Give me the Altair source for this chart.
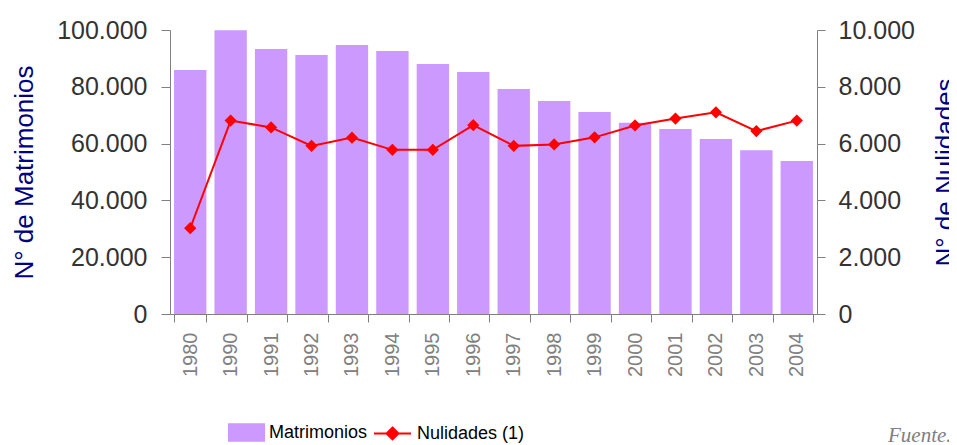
import altair as alt
import pandas as pd

years = ["1980", "1990", "1991", "1992", "1993", "1994", "1995", "1996",
         "1997", "1998", "1999", "2000", "2001", "2002", "2003", "2004"]
matrimonios = [85900, 99900, 93300, 91200, 94700, 92600, 88000, 85200,
               79200, 75000, 71100, 67300, 65100, 61600, 57700, 53900]
nulidades = [3020, 6810, 6570, 5920, 6210, 5780, 5780, 6650,
             5920, 5970, 6220, 6640, 6880, 7100, 6440, 6810]
left_ticks = [0, 20000, 40000, 60000, 80000, 100000]
right_ticks = [0, 2000, 4000, 6000, 8000, 10000]

df = pd.DataFrame({"year": years, "matrimonios": matrimonios, "nulidades": nulidades})

FONT = "Liberation Sans"
label_expr = "replace(format(datum.value, ',d'), ',', '.')"

x = alt.X(
    "year:N", sort=years, title=None,
    scale=alt.Scale(paddingInner=0.2, paddingOuter=0.1),
    axis=alt.Axis(labelAngle=270, labelColor="#808080", labelFont=FONT, labelFontSize=20,
                  labelPadding=10, tickBand="extent", tickSize=8, tickColor="#808080",
                  domainColor="#808080", grid=False),
)

left_axis = alt.Axis(values=left_ticks, labelExpr=label_expr, title="N° de Matrimonios",
                     titleColor="#000080", titleFont=FONT, titleFontSize=26, titleFontWeight="normal",
                     titleAngle=270, titleBaseline="middle", titleAlign="center", titleX=-146, titleY=142,
                     labelColor="#333333", labelFont=FONT, labelFontSize=25,
                     labelPadding=14, tickSize=9, tickColor="#808080", domainColor="#808080", grid=False)
right_axis = alt.Axis(values=right_ticks, labelExpr=label_expr, title="N° de Nulidades", orient="right",
                      titleColor="#000080", titleFont=FONT, titleFontSize=26, titleFontWeight="normal",
                      titleAngle=270, titleBaseline="middle", titleAlign="center", titleX=128, titleY=142,
                      labelColor="#333333", labelFont=FONT, labelFontSize=25,
                      labelPadding=13, tickSize=8, tickColor="#808080", domainColor="#808080", grid=False)

LEG_FONT = 18

bars = alt.Chart(df).transform_calculate(serie="'Matrimonios'").mark_bar(opacity=1).encode(
    x=x,
    y=alt.Y("matrimonios:Q", scale=alt.Scale(domain=[0, 100000], nice=False), axis=left_axis),
    color=alt.Color("serie:N", scale=alt.Scale(domain=["Matrimonios"], range=["#CC99FF"]),
                    legend=alt.Legend(orient="none", legendX=58, legendY=384, title=None, padding=0,
                                      symbolType="M-1,-0.5H1V0.5H-1Z", symbolSize=1369,
                                      symbolStrokeWidth=0, symbolOpacity=1,
                                      labelFont=FONT, labelFontSize=LEG_FONT, labelColor="#000000",
                                      labelOffset=4)),
)

y2 = alt.Y("nulidades:Q", scale=alt.Scale(domain=[0, 10000], nice=False), axis=right_axis)
c2 = alt.Color("serie:N", scale=alt.Scale(domain=["Nulidades (1)"], range=["#FF0000"]),
               legend=alt.Legend(orient="none", legendX=203, legendY=384, title=None, padding=0,
                                 symbolType="M-1,0H1M0,-0.32L0.32,0L0,0.32L-0.32,0Z", symbolSize=1369,
                                 symbolStrokeWidth=2, symbolFillColor="#FF0000", symbolStrokeColor="#FF0000",
                                 symbolOpacity=1,
                                 labelFont=FONT, labelFontSize=LEG_FONT, labelColor="#000000",
                                 labelOffset=5))

base2 = alt.Chart(df).transform_calculate(serie="'Nulidades (1)'")
line = base2.mark_line(strokeWidth=2).encode(x=x, y=y2, color=c2)
pts = base2.mark_point(shape="diamond", filled=True, size=150, opacity=1).encode(x=x, y=y2, color=c2)

chart = alt.layer(bars, alt.layer(line, pts)).resolve_scale(y="independent", color="independent").properties(
    width=647, height=284,
    autosize=alt.AutoSizeParams(type="none"),
    padding={"left": 162, "top": 22, "right": 132, "bottom": 131},
    title=alt.Title("Fuente.", orient="bottom", anchor="start", frame="group", dx=718, dy=-23,
                    font="Liberation Serif", fontStyle="italic", fontSize=21, fontWeight="normal",
                    color="#808080"),
).configure_view(stroke=None)

chart.save("out.html", embed_options={"renderer": "svg", "actions": False})
